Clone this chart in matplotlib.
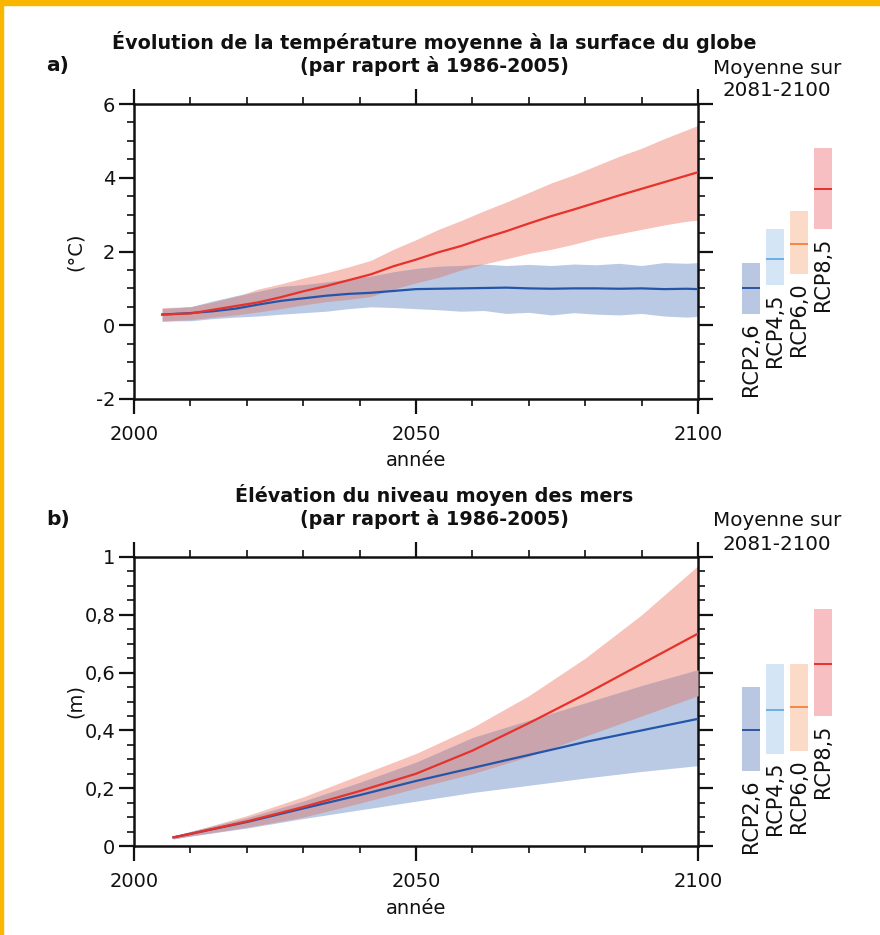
import matplotlib
matplotlib.use('Agg')
import matplotlib.pyplot as plt
import numpy as np
from matplotlib.patches import Rectangle
from matplotlib.ticker import MultipleLocator, FixedLocator

plt.rcParams['font.family'] = ['DejaVu Sans']

# ---------------- data ----------------
temp_years = [2005, 2010, 2014, 2018, 2022, 2026, 2030, 2034, 2038, 2042, 2046, 2050, 2054,
              2058, 2062, 2066, 2070, 2074, 2078, 2082, 2086, 2090, 2094, 2098, 2100]
temp_rcp85_mean = [0.29, 0.32, 0.42, 0.52, 0.62, 0.76, 0.92, 1.06, 1.22, 1.38, 1.60, 1.78, 1.98,
                   2.15, 2.36, 2.55, 2.76, 2.96, 3.14, 3.33, 3.52, 3.70, 3.88, 4.06, 4.15]
temp_rcp85_high = [0.48, 0.50, 0.63, 0.78, 0.98, 1.12, 1.28, 1.42, 1.58, 1.76, 2.06, 2.32, 2.60,
                   2.84, 3.10, 3.34, 3.60, 3.86, 4.08, 4.33, 4.58, 4.80, 5.06, 5.30, 5.42]
temp_rcp85_low = [0.10, 0.15, 0.22, 0.28, 0.36, 0.45, 0.55, 0.64, 0.70, 0.78, 0.98, 1.15, 1.30,
                  1.50, 1.66, 1.80, 1.95, 2.06, 2.20, 2.36, 2.48, 2.60, 2.72, 2.82, 2.85]
temp_rcp26_mean = [0.29, 0.33, 0.38, 0.45, 0.56, 0.66, 0.73, 0.80, 0.85, 0.88, 0.93, 0.98, 0.99,
                   1.00, 1.01, 1.02, 1.00, 0.99, 1.00, 1.00, 0.99, 1.00, 0.98, 0.99, 0.98]
temp_rcp26_high = [0.45, 0.50, 0.66, 0.80, 0.92, 1.05, 1.10, 1.17, 1.25, 1.33, 1.45, 1.54, 1.60,
                   1.62, 1.66, 1.62, 1.65, 1.62, 1.66, 1.64, 1.68, 1.62, 1.70, 1.68, 1.70]
temp_rcp26_low = [0.12, 0.12, 0.18, 0.22, 0.25, 0.30, 0.34, 0.38, 0.45, 0.50, 0.48, 0.45, 0.42,
                  0.38, 0.40, 0.32, 0.35, 0.28, 0.34, 0.30, 0.28, 0.32, 0.25, 0.22, 0.24]

sea_years = [2007, 2010, 2020, 2030, 2040, 2050, 2060, 2070, 2080, 2090, 2100]
sea_rcp85_mean = [0.030, 0.042, 0.085, 0.135, 0.190, 0.250, 0.330, 0.425, 0.525, 0.630, 0.735]
sea_rcp85_high = [0.035, 0.050, 0.105, 0.170, 0.245, 0.320, 0.410, 0.520, 0.650, 0.800, 0.970]
sea_rcp85_low = [0.025, 0.035, 0.065, 0.100, 0.148, 0.200, 0.250, 0.310, 0.380, 0.450, 0.520]
sea_rcp26_mean = [0.030, 0.042, 0.083, 0.130, 0.176, 0.225, 0.270, 0.315, 0.360, 0.400, 0.440]
sea_rcp26_high = [0.035, 0.050, 0.098, 0.155, 0.220, 0.290, 0.375, 0.435, 0.495, 0.555, 0.610]
sea_rcp26_low = [0.025, 0.034, 0.062, 0.095, 0.125, 0.155, 0.185, 0.210, 0.235, 0.258, 0.278]

scenarios = ['RCP2,6', 'RCP4,5', 'RCP6,0', 'RCP8,5']
temp_bar_mean = [1.0, 1.8, 2.2, 3.7]
temp_bar_low = [0.3, 1.1, 1.4, 2.6]
temp_bar_high = [1.7, 2.6, 3.1, 4.8]
sea_bar_mean = [0.40, 0.47, 0.48, 0.63]
sea_bar_low = [0.26, 0.32, 0.33, 0.45]
sea_bar_high = [0.55, 0.63, 0.63, 0.82]

xtick_values = [2000, 2050, 2100]
xtick_labels = ['2000', '2050', '2100']
temp_ytick_values = [-2, 0, 2, 4, 6]
temp_ytick_labels = ['-2', '0', '2', '4', '6']
sea_ytick_values = [0, 0.2, 0.4, 0.6, 0.8, 1.0]
sea_ytick_labels = ['0', '0,2', '0,4', '0,6', '0,8', '1']

# ---------------- styles ----------------
W, H = 880, 935
C_PINK = '#F6C2B9'
C_BLUE = '#BACAE4'
C_PURPLE = '#C9A4AC'
C_RED_LINE = '#E6322A'
C_BLUE_LINE = '#2356AA'
bar_fill = ['#B9C7E2', '#D4E5F6', '#FCDAC8', '#F7BFC2']
bar_line = ['#2A55A0', '#6FAEE0', '#F08848', '#E8302F']


def fx(px):
    return px / W


def fy(py):
    return 1 - py / H


fig = plt.figure(figsize=(W / 100, H / 100), dpi=100)
fig.patch.set_facecolor('white')


def style_axes(ax, minor_y):
    for s in ax.spines.values():
        s.set_linewidth(1.8)
        s.set_color('#111111')
    ax.xaxis.set_minor_locator(MultipleLocator(10))
    ax.yaxis.set_minor_locator(MultipleLocator(minor_y))
    ax.tick_params(which='major', direction='out', length=10.5, width=1.6,
                   top=True, right=True, labelsize=14, colors='#111111')
    ax.tick_params(which='minor', direction='out', length=5.2, width=1.2,
                   top=True, right=True, colors='#111111')
    ax.tick_params(axis='x', which='major', pad=8)
    ax.tick_params(axis='y', which='major', pad=3)


def draw_panel(top_px, bottom_px, years, r_mean, r_low, r_high, b_mean, b_low, b_high,
               ylim, yticks, yticklabels, minor_y, ylabel, title1, letter,
               bm, bl, bh):
    ax = fig.add_axes([fx(134), fy(bottom_px), fx(698) - fx(134), (bottom_px - top_px) / H])
    yr = np.array(years, dtype=float)
    rl, rh = np.array(r_low), np.array(r_high)
    bl_, bh_ = np.array(b_low), np.array(b_high)
    ax.fill_between(yr, rl, rh, color=C_PINK, linewidth=0, zorder=1)
    ax.fill_between(yr, bl_, bh_, color=C_BLUE, linewidth=0, zorder=2)
    olo = np.maximum(rl, bl_)
    ohi = np.minimum(rh, bh_)
    ax.fill_between(yr, olo, ohi, where=ohi >= olo, interpolate=True,
                    color=C_PURPLE, linewidth=0, zorder=3)
    ax.plot(yr, b_mean, color=C_BLUE_LINE, lw=1.6, zorder=4)
    ax.plot(yr, r_mean, color=C_RED_LINE, lw=1.6, zorder=5)
    ax.set_xlim(2000, 2100)
    ax.set_ylim(*ylim)
    ax.xaxis.set_major_locator(FixedLocator(xtick_values))
    ax.set_xticklabels(xtick_labels)
    ax.yaxis.set_major_locator(FixedLocator(yticks))
    ax.set_yticklabels(yticklabels)
    style_axes(ax, minor_y)

    hpx = bottom_px - top_px
    ax.text((75 - 134) / 564, 0.5, ylabel, rotation=90, ha='center', va='center',
            fontsize=14, transform=ax.transAxes, color='#111111')
    ax.text(0.5, -62 / hpx, 'année', ha='center', va='center', fontsize=14,
            transform=ax.transAxes, color='#111111')

    fig.text(fx(434), fy(top_px - 62), title1, ha='center', va='center',
             fontsize=13.8, fontweight='bold', color='#111111')
    fig.text(fx(434), fy(top_px - 38), '(par raport à 1986-2005)', ha='center', va='center',
             fontsize=13.8, fontweight='bold', color='#111111')
    fig.text(fx(46), fy(top_px - 38), letter, ha='left', va='center',
             fontsize=14.5, fontweight='bold', color='#111111')
    fig.text(fx(777), fy(top_px - 36), 'Moyenne sur', ha='center', va='center',
             fontsize=14.3, color='#111111')
    fig.text(fx(777), fy(top_px - 13), '2081-2100', ha='center', va='center',
             fontsize=14.3, color='#111111')

    # side bars
    axb = fig.add_axes([fx(739.5), fy(bottom_px), fx(835.3) - fx(739.5), (bottom_px - top_px) / H])
    axb.set_xlim(-0.5, 3.5)
    axb.set_ylim(*ylim)
    axb.axis('off')
    xs = np.arange(len(scenarios))
    heights = np.array(bh) - np.array(bl)
    axb.bar(xs, heights, bottom=bl, width=0.75, color=bar_fill, linewidth=0)
    for i in range(len(scenarios)):
        axb.hlines(bm[i], xs[i] - 0.375, xs[i] + 0.375, color=bar_line[i], lw=1.4)
        axb.annotate(scenarios[i], (xs[i], bl[i]), xytext=(0, -6), textcoords='offset points',
                     rotation=90, ha='center', va='top', fontsize=15, color='#111111',
                     annotation_clip=False)
    return ax


draw_panel(104, 399, temp_years, temp_rcp85_mean, temp_rcp85_low, temp_rcp85_high,
           temp_rcp26_mean, temp_rcp26_low, temp_rcp26_high,
           (-2, 6), temp_ytick_values, temp_ytick_labels, 0.5, '(°C)',
           'Évolution de la température moyenne à la surface du globe', 'a)',
           temp_bar_mean, temp_bar_low, temp_bar_high)

draw_panel(557, 846, sea_years, sea_rcp85_mean, sea_rcp85_low, sea_rcp85_high,
           sea_rcp26_mean, sea_rcp26_low, sea_rcp26_high,
           (0, 1), sea_ytick_values, sea_ytick_labels, 0.05, '(m)',
           'Élévation du niveau moyen des mers', 'b)',
           sea_bar_mean, sea_bar_low, sea_bar_high)

# orange frame (top band and left edge)
fig.patches.append(Rectangle((0, 1 - 5 / H), 1, 5 / H, transform=fig.transFigure,
                             color='#F8B600', zorder=10))
fig.patches.append(Rectangle((0, 0), 3 / W, 1, transform=fig.transFigure,
                             color='#F8B600', zorder=10))

fig.savefig('out.png', dpi=100)
